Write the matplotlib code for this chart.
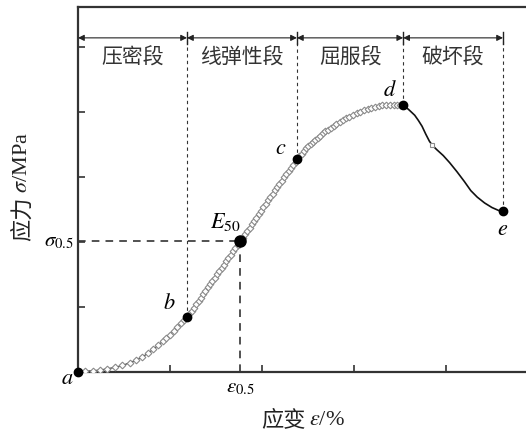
import numpy as np
import matplotlib
matplotlib.use('Agg')
import matplotlib.pyplot as plt

plt.rcParams['font.family'] = ['Liberation Serif', 'Noto Sans CJK SC']
plt.rcParams['mathtext.fontset'] = 'stix'

# pre-peak curve (open markers), strain %, stress MPa
strain_up = [0, 0.08, 0.16, 0.24, 0.32, 0.40, 0.48, 0.56, 0.63, 0.70, 0.76, 0.82, 0.87, 0.92, 0.96,
             1.00, 1.04, 1.08, 1.12, 1.155, 1.185,
             1.21, 1.235, 1.26, 1.285, 1.31, 1.335, 1.36, 1.385, 1.41, 1.435, 1.46, 1.485, 1.51, 1.535,
             1.56, 1.585, 1.61, 1.635, 1.66, 1.685, 1.71, 1.735, 1.765, 1.79, 1.815, 1.84, 1.865, 1.89,
             1.915, 1.94, 1.965, 1.99, 2.015, 2.04, 2.065, 2.09, 2.115, 2.14, 2.165, 2.19, 2.215, 2.24,
             2.265, 2.29, 2.315, 2.34, 2.365, 2.38,
             2.405, 2.43, 2.455, 2.48, 2.505, 2.53, 2.555, 2.58, 2.605, 2.63, 2.66, 2.69, 2.72, 2.75,
             2.78, 2.81, 2.845, 2.88, 2.915, 2.95, 2.99, 3.03, 3.07, 3.11, 3.15, 3.19, 3.23, 3.27,
             3.31, 3.35, 3.39, 3.43, 3.47, 3.505, 3.535]
stress_up = [0, 0.01, 0.02, 0.03, 0.05, 0.07, 0.10, 0.14, 0.18, 0.23, 0.29, 0.35, 0.41, 0.47, 0.52,
             0.575, 0.63, 0.69, 0.75, 0.80, 0.84,
             0.89, 0.94, 0.99, 1.04, 1.095, 1.145, 1.195, 1.245, 1.30, 1.35, 1.40, 1.45, 1.50, 1.55,
             1.60, 1.65, 1.705, 1.755, 1.805, 1.855, 1.905, 1.955, 2.01, 2.06, 2.115, 2.165, 2.22, 2.27,
             2.325, 2.375, 2.43, 2.48, 2.535, 2.585, 2.64, 2.69, 2.74, 2.795, 2.845, 2.895, 2.945, 2.995,
             3.045, 3.095, 3.145, 3.19, 3.235, 3.27,
             3.315, 3.36, 3.40, 3.44, 3.475, 3.51, 3.545, 3.575, 3.605, 3.635, 3.67, 3.70, 3.73, 3.76,
             3.79, 3.815, 3.845, 3.875, 3.90, 3.925, 3.955, 3.98, 4.005, 4.03, 4.045, 4.06, 4.075, 4.09,
             4.10, 4.105, 4.11, 4.11, 4.11, 4.11, 4.11]

# post-peak curve (solid line)
strain_down = [3.535, 3.60, 3.66, 3.70, 3.74, 3.78, 3.82, 3.85, 3.90, 3.97, 4.04, 4.12, 4.20,
               4.27, 4.34, 4.42, 4.50, 4.58, 4.62]
stress_down = [4.11, 4.03, 3.95, 3.87, 3.78, 3.66, 3.55, 3.49, 3.42, 3.33, 3.22, 3.08, 2.93,
               2.79, 2.69, 2.60, 2.53, 2.48, 2.47]

# key points a, b, c, d, e
point_names = ['a', 'b', 'c', 'd', 'e']
point_x = [0, 1.185, 2.38, 3.535, 4.62]
point_y = [0, 0.84, 3.27, 4.11, 2.47]
e50_x, e50_y = 1.765, 2.01

stage_names = ['压密段', '线弹性段', '屈服段', '破坏段']

cjk = ['Noto Sans CJK SC']

fig = plt.figure(figsize=(5.26, 4.34), dpi=100)
ax = fig.add_axes([0.1483, 0.1429, 0.8517, 0.841])

ax.plot(strain_up, stress_up, '-', color='#222222', lw=0.8, zorder=2)
ax.plot(strain_up, stress_up, 'D', ms=3.4, mfc='white', mec='#8a8a8a', mew=0.8, zorder=3)
ax.plot(strain_down, stress_down, '-', color='#111111', lw=1.2, zorder=2)
ax.plot([3.85], [3.49], 's', ms=3.5, mfc='white', mec='#8a8a8a', mew=0.8, zorder=3)

ax.plot(point_x, point_y, 'o', color='black', ms=6, zorder=4, clip_on=False)
ax.plot([e50_x], [e50_y], 'o', color='black', ms=8, zorder=4)

# sigma_0.5 / eps_0.5 guides
ax.plot([0, e50_x], [e50_y, e50_y], color='#222222', lw=1.1, dashes=(5, 4), zorder=1)
ax.plot([e50_x, e50_x], [0, e50_y], color='#222222', lw=1.1, dashes=(5, 4), zorder=1)

# stage boundaries
dim_y = 5.14
for bx, by in zip(point_x[1:], point_y[1:]):
    ax.plot([bx, bx], [by, dim_y], color='#333333', lw=0.8, dashes=(3, 3), zorder=1)
    ax.plot([bx, bx], [dim_y - 0.09, dim_y + 0.09], color='#222222', lw=1.0)
for i in range(4):
    ax.annotate('', xy=(point_x[i], dim_y), xytext=(point_x[i + 1], dim_y),
                arrowprops=dict(arrowstyle='<|-|>', color='#222222', lw=0.8,
                                mutation_scale=9, shrinkA=0, shrinkB=0))
    ax.text((point_x[i] + point_x[i + 1]) / 2, 4.83, stage_names[i], ha='center', va='center',
            fontsize=15, color='#333333', family=cjk)

# point labels
ax.text(-0.05, -0.12, '$a$', ha='right', va='center', fontsize=16)
ax.text(1.06, 1.04, '$b$', ha='right', va='center', fontsize=16)
ax.text(2.27, 3.43, '$c$', ha='right', va='center', fontsize=16)
ax.text(3.47, 4.32, '$d$', ha='right', va='center', fontsize=16)
ax.text(4.62, 2.18, '$e$', ha='center', va='center', fontsize=16)
ax.text(1.60, 2.30, '$E_{50}$', ha='center', va='center', fontsize=16)
ax.text(-0.05, e50_y, r'$\sigma_{0.5}$', ha='right', va='center', fontsize=15)
ax.text(e50_x, -0.25, r'$\varepsilon_{0.5}$', ha='center', va='center', fontsize=15)

# axis titles: Chinese part and math part as separate texts
fig.text(0.582, 0.032, '应变', ha='right', va='center', fontsize=16, color='#222222', family=cjk)
fig.text(0.588, 0.032, r'$\varepsilon$/%', ha='left', va='center', fontsize=16, color='#222222')
fig.text(0.042, 0.548, '应力', ha='center', va='top', rotation=90, fontsize=16,
         color='#222222', family=cjk)
fig.text(0.042, 0.556, r'$\sigma$/MPa', ha='center', va='bottom', rotation=90, fontsize=16,
         color='#222222')

ax.set_xlim(0, 4.87)
ax.set_ylim(0, 5.615)
ax.set_xticks([1, 2, 3, 4])
ax.set_yticks([1, 2, 3, 4, 5])
ax.set_xticklabels([])
ax.set_yticklabels([])
ax.tick_params(direction='in', length=5, width=1.2, color='#333333', top=False, right=False)
for side in ['left', 'bottom', 'top']:
    ax.spines[side].set_linewidth(1.6)
    ax.spines[side].set_color('#333333')
ax.spines['right'].set_visible(False)

plt.savefig('out.png', dpi=100)
